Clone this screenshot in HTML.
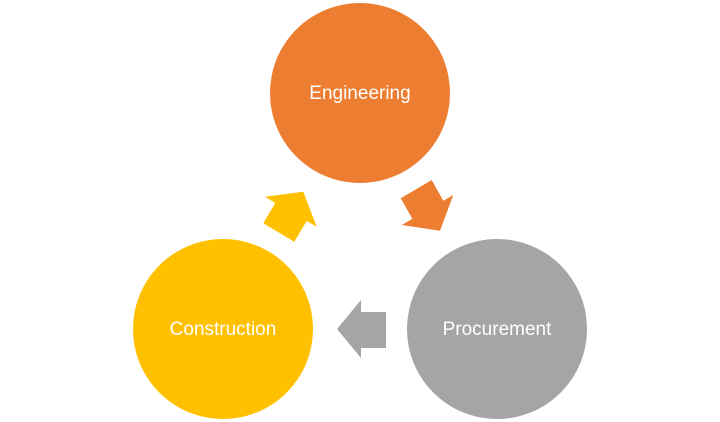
<!DOCTYPE html>
<html><head><style>
html,body{margin:0;padding:0;background:#fff;}
</style></head><body>
<svg width="720" height="422" viewBox="0 0 720 422" xmlns="http://www.w3.org/2000/svg" style="display:block">
<circle cx="360" cy="93" r="90" fill="#ED7D31"/>
<circle cx="223" cy="329" r="90" fill="#FFC000"/>
<circle cx="497" cy="329" r="90" fill="#A5A5A5"/>
<polygon points="354,312 386,312 386,348 361,348 361,358 337,329 361,300 361,312" fill="#A5A5A5"/>
<polygon points="400.7,198.3 431.7,180 443.3,200.7 453.3,195 440,230.7 401.7,225 412.3,218.7" fill="#ED7D31"/>
<polygon points="263.3,223.3 275.3,203 265,196.7 303.3,191.7 316.7,226.7 306.7,221 294.3,241.7" fill="#FFC000"/>
<g font-family="'Liberation Sans', sans-serif" font-size="19" fill="#fff" text-anchor="middle">
<text x="360" y="99">Engineering</text>
<text x="223" y="335">Construction</text>
<text x="497" y="335">Procurement</text>
</g>
</svg>
</body></html>
